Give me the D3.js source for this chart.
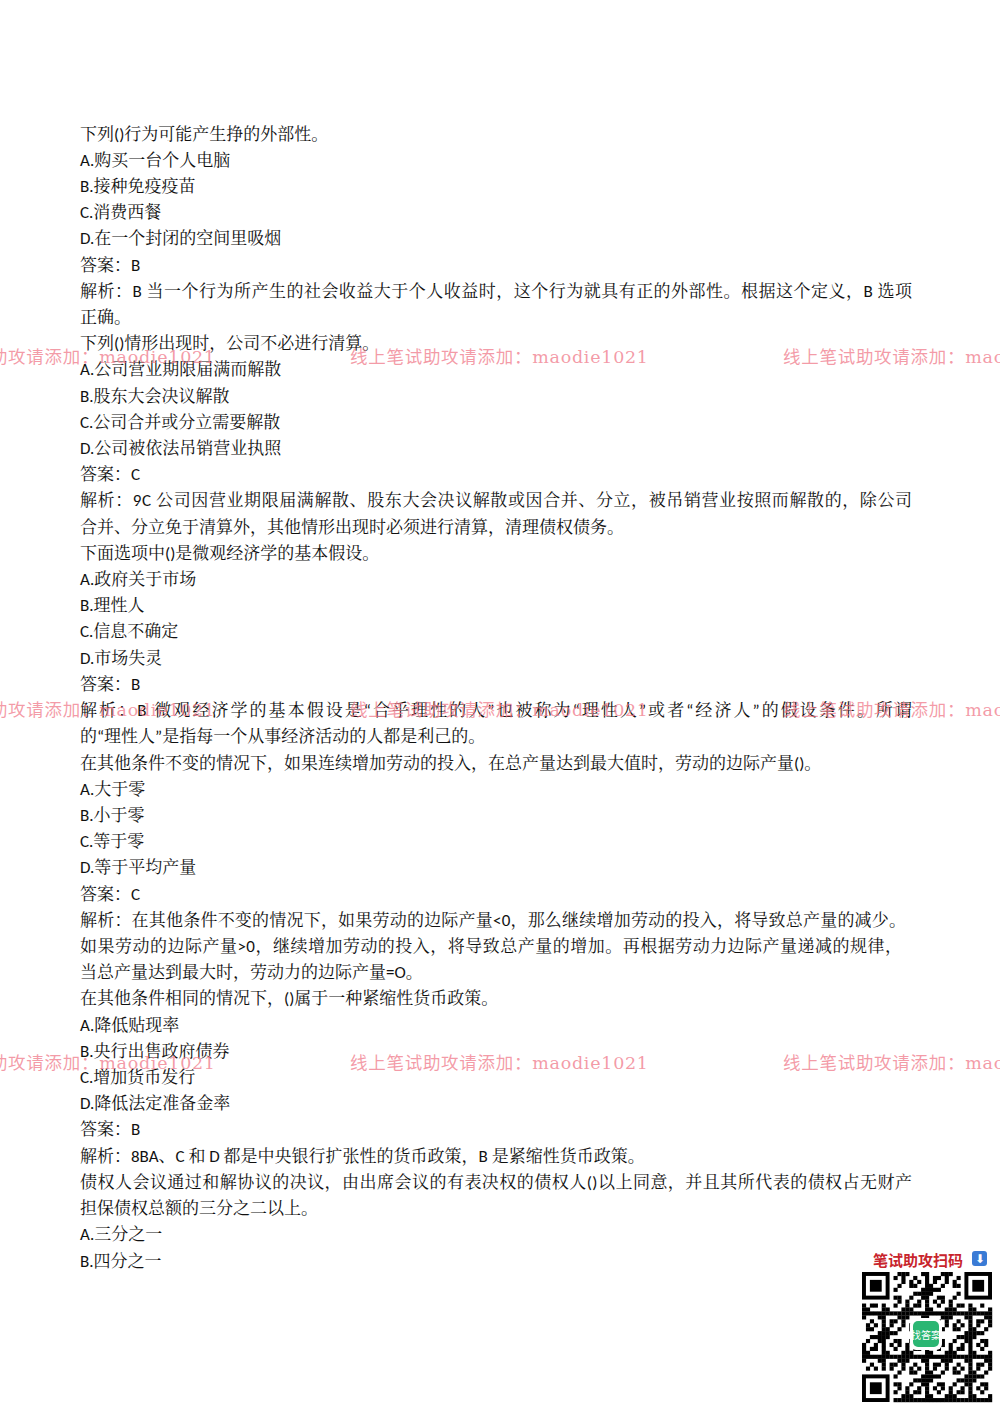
<!DOCTYPE html>
<html><head><meta charset="utf-8">
<script src="https://cdn.jsdelivr.net/npm/d3@7"></script>
<style>body{margin:0;background:#fff}</style>
</head><body>
<svg id="page" width="1000" height="1414"></svg>
<script>
// text lines of the page, top to bottom
const lines = [
  "下列()行为可能产生挣的外部性。",
  "A.购买一台个人电脑",
  "B.接种免疫疫苗",
  "C.消费西餐",
  "D.在一个封闭的空间里吸烟",
  "答案：B",
  "解析：B 当一个行为所产生的社会收益大于个人收益时，这个行为就具有正的外部性。根据这个定义，B 选项",
  "正确。",
  "下列()情形出现时，公司不必进行清算。",
  "A.公司营业期限届满而解散",
  "B.股东大会决议解散",
  "C.公司合并或分立需要解散",
  "D.公司被依法吊销营业执照",
  "答案：C",
  "解析：9C 公司因营业期限届满解散、股东大会决议解散或因合并、分立，被吊销营业按照而解散的，除公司",
  "合并、分立免于清算外，其他情形出现时必须进行清算，清理债权债务。",
  "下面选项中()是微观经济学的基本假设。",
  "A.政府关于市场",
  "B.理性人",
  "C.信息不确定",
  "D.市场失灵",
  "答案：B",
  "解析：B 微观经济学的基本假设是“合乎理性的人”也被称为“理性人”或者“经济人”的假设条件。所谓",
  "的“理性人”是指每一个从事经济活动的人都是利己的。",
  "在其他条件不变的情况下，如果连续增加劳动的投入，在总产量达到最大值时，劳动的边际产量()。",
  "A.大于零",
  "B.小于零",
  "C.等于零",
  "D.等于平均产量",
  "答案：C",
  "解析：在其他条件不变的情况下，如果劳动的边际产量<0，那么继续增加劳动的投入，将导致总产量的减少。",
  "如果劳动的边际产量>0，继续增加劳动的投入，将导致总产量的增加。再根据劳动力边际产量递减的规律，",
  "当总产量达到最大时，劳动力的边际产量=O。",
  "在其他条件相同的情况下，()属于一种紧缩性货币政策。",
  "A.降低贴现率",
  "B.央行出售政府债券",
  "C.增加货币发行",
  "D.降低法定准备金率",
  "答案：B",
  "解析：8BA、C 和 D 都是中央银行扩张性的货币政策，B 是紧缩性货币政策。",
  "债权人会议通过和解协议的决议，由出席会议的有表决权的债权人()以上同意，并且其所代表的债权占无财产",
  "担保债权总额的三分之二以上。",
  "A.三分之一",
  "B.四分之一"
];
// lines that are justified to the full text width
const justified = [6, 14, 22, 30, 31, 40];
const justifiedWidth = [832, 832, 832, 826, 822, 832];
const watermarkText = "线上笔试助攻请添加：maodie1021";
const watermarkRows = [357, 710, 1063];
const watermarkCols = [-83, 350, 783];

const svg = d3.select("#page");
const y = d3.scaleLinear().domain([0, lines.length - 1]).range([134, 1261]);

svg.append("g").selectAll("text").data(lines).join("text")
  .attr("x", 80)
  .attr("y", (d, i) => y(i))
  .attr("dominant-baseline", "central")
  .attr("font-family", "Carlito, 'Noto Serif CJK SC', 'Noto Sans CJK SC', sans-serif")
  .attr("font-size", 17)
  .attr("fill", "#111")
  .attr("textLength", (d, i) => justified.includes(i) ? justifiedWidth[justified.indexOf(i)] : null)
  .attr("lengthAdjust", "spacing")
  .text(d => d);

// watermarks
const wm = svg.append("g");
watermarkRows.forEach(r => {
  watermarkCols.forEach(c => {
    wm.append("text").attr("x", c).attr("y", r)
      .attr("dominant-baseline", "central")
      .attr("font-family", "'DejaVu Serif', 'Noto Sans CJK SC', serif")
      .attr("font-size", 17.5)
      .attr("fill", "#f07a8a").attr("fill-opacity", 0.75)
      .attr("textLength", 298).attr("lengthAdjust", "spacing")
      .text(watermarkText);
  });
});

// QR badge
svg.append("text").attr("x", 873).attr("y", 1259)
  .attr("dominant-baseline", "central")
  .attr("font-family", "'Noto Sans CJK SC', sans-serif")
  .attr("font-size", 15).attr("font-weight", "bold").attr("fill", "#c8242c")
  .text("笔试助攻扫码");
svg.append("rect").attr("x", 972).attr("y", 1251).attr("width", 15).attr("height", 15)
  .attr("rx", 3).attr("fill", "#3a7bd5");
svg.append("text").attr("x", 979.5).attr("y", 1259).attr("text-anchor", "middle")
  .attr("dominant-baseline", "central").attr("font-size", 12).attr("fill", "#fff").text("⬇");

const n = 33, qx = 862, qy = 1272, cell = 130 / n;
const qr = svg.append("g");
const mods = [];
for (let r = 0; r < n; r++) for (let c = 0; c < n; c++) {
  const inFinder = (r < 8 && c < 8) || (r < 8 && c >= n - 8) || (r >= n - 8 && c < 8);
  if (inFinder) continue;
  if (((r * 7919 + c * 104729 + r * c * 31) % 11) < 5) mods.push([r, c]);
}
qr.selectAll("rect.m").data(mods).join("rect").attr("class", "m")
  .attr("x", d => qx + d[1] * cell).attr("y", d => qy + d[0] * cell)
  .attr("width", cell + 0.2).attr("height", cell + 0.2).attr("fill", "#000");
[[0, 0], [0, n - 7], [n - 7, 0]].forEach(([r, c]) => {
  qr.append("rect").attr("x", qx + c * cell + cell / 2).attr("y", qy + r * cell + cell / 2)
    .attr("width", cell * 6).attr("height", cell * 6).attr("fill", "none")
    .attr("stroke", "#000").attr("stroke-width", cell);
  qr.append("rect").attr("x", qx + (c + 2) * cell).attr("y", qy + (r + 2) * cell)
    .attr("width", cell * 3).attr("height", cell * 3).attr("fill", "#000");
});
qr.append("rect").attr("x", 910).attr("y", 1318).attr("width", 32).attr("height", 32)
  .attr("rx", 6).attr("fill", "#fff");
qr.append("rect").attr("x", 913).attr("y", 1321).attr("width", 26).attr("height", 26)
  .attr("rx", 5).attr("fill", "#2bb673");
qr.append("text").attr("x", 926).attr("y", 1334).attr("text-anchor", "middle")
  .attr("dominant-baseline", "central").attr("font-size", 10).attr("fill", "#fff")
  .attr("font-family", "'Noto Sans CJK SC', sans-serif").text("找答案");
</script>
</body></html>
